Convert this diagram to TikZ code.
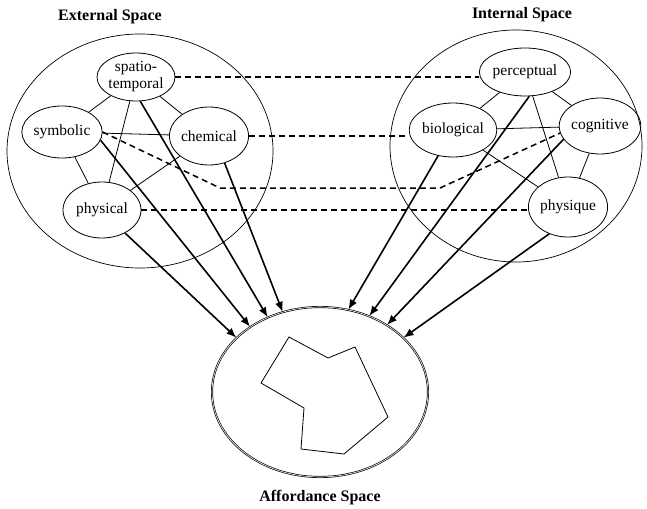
\documentclass[tikz,border=0pt]{standalone}
\usepackage{fontspec}
\setmainfont{Liberation Serif}
\usetikzlibrary{shapes.geometric,arrows.meta}
\tikzset{
    space-ellipse/.style = {draw, ellipse, line width=0.7pt, inner sep=0pt},
    aspect-node/.style = {draw, ellipse, line width=0.8pt, inner sep=0pt, minimum width=78pt, minimum height=52pt, align=center, font=\fontsize{15.5}{17}\selectfont},
    link-line/.style = {line width=0.8pt},
    match-line/.style = {line width=1.5pt, dash pattern=on 6pt off 4pt},
    feed-arrow/.style = {line width=1.6pt, -{Latex[length=10pt,width=8pt]}},
    space-title/.style = {font=\fontsize{16}{18}\selectfont\bfseries},
}

\begin{document}
\begin{tikzpicture}[x=1pt,y=-1pt]
\useasboundingbox (0,0) rectangle (647,508);

% the two spaces
\node[space-ellipse, minimum width=266pt, minimum height=234pt] (ext) at (140,151) {};
\node[space-ellipse, minimum width=252pt, minimum height=232pt] (int) at (516,146) {};
\node[space-title] (ext-title) at (110,17) {External Space};
\node[space-title] (int-title) at (522,15) {Internal Space};

% external aspects
\node[aspect-node, minimum height=48pt] (spatio) at (136,77) {spatio-\\temporal};
\node[aspect-node] (symbolic) at (62,132) {symbolic};
\node[aspect-node, minimum height=58pt] (chemical) at (209,136) {chemical};
\node[aspect-node, minimum height=56pt] (physical) at (102,210) {physical};

% internal aspects
\node[aspect-node, minimum width=80pt, minimum height=48pt] (perceptual) at (525,72) {perceptual};
\node[aspect-node, minimum height=54pt] (biological) at (453,130) {biological};
\node[aspect-node, minimum width=76pt, minimum height=56pt] (cognitive) at (600,126) {cognitive};
\node[aspect-node, minimum height=60pt] (physique) at (568,207) {physique};

% links inside each space
\draw[link-line] (spatio) -- (symbolic);
\draw[link-line] (spatio) -- (chemical);
\draw[link-line] (spatio) -- (physical);
\draw[link-line] (symbolic) -- (chemical);
\draw[link-line] (symbolic) -- (physical);
\draw[link-line] (chemical) -- (physical);
\draw[link-line] (perceptual) -- (biological);
\draw[link-line] (perceptual) -- (cognitive);
\draw[link-line] (perceptual) -- (physique);
\draw[link-line] (biological) -- (cognitive);
\draw[link-line] (biological) -- (physique);
\draw[link-line] (cognitive) -- (physique);

% correspondences
\draw[match-line] (spatio.east) -- (spatio.east -| perceptual.west);
\draw[match-line] (chemical.east) -- (chemical.east -| biological.west);
\draw[match-line] (physical.east) -- (physical.east -| physique.west);
\draw[match-line] (symbolic.east) -- (220,188) -- (440,188) -- (cognitive.190);

% affordance space
\node[draw, ellipse, double, double distance=0.6pt, line width=0.7pt, inner sep=0pt, minimum width=216pt, minimum height=170pt] (aff) at (320,392) {};
\node[space-title] (aff-title) at (320,498) {Affordance Space};
\draw[line width=0.8pt] (289,337) -- (328,358) -- (355,347) -- (388,417) -- (344,454) -- (301,449) -- (304,408) -- (261,383) -- cycle;

% arrows into it
\draw[feed-arrow] (physical.-45) -- (aff.147);
\draw[feed-arrow] (symbolic.-12) -- (aff.137);
\draw[feed-arrow] (spatio.-80) -- (aff.125);
\draw[feed-arrow] (chemical.-60) -- (aff.115);
\draw[feed-arrow] (biological.-120) -- (aff.71);
\draw[feed-arrow] (perceptual.-80) -- (aff.57);
\draw[feed-arrow] (cognitive.200) -- (aff.45);
\draw[feed-arrow] (physique.-125) -- (aff.33);
\end{tikzpicture}
\end{document}
